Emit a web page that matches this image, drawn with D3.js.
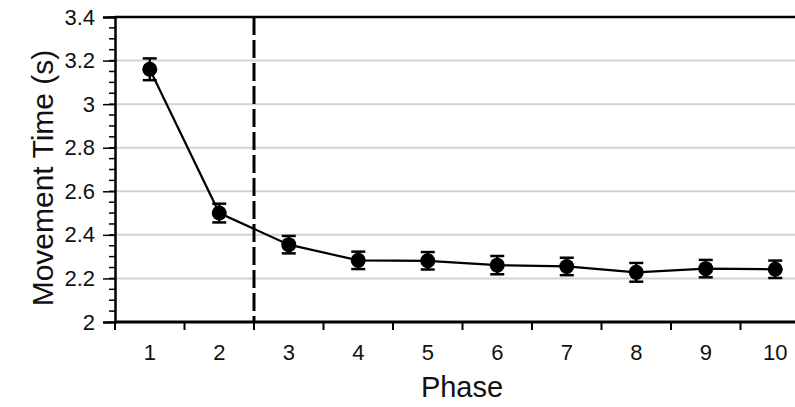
<!DOCTYPE html>
<html><head><meta charset="utf-8">
<script src="https://cdn.jsdelivr.net/npm/d3@7"></script>
<style>body{margin:0;background:#fff}svg{display:block}</style>
</head><body><svg id="c" width="795" height="407"></svg>
<script>
const phases = ["1","2","3","4","5","6","7","8","9","10"];
const meanTime = [3.16, 2.50, 2.355, 2.283, 2.281, 2.261, 2.255, 2.228, 2.245, 2.242];
const errTime  = [0.05, 0.043, 0.04, 0.04, 0.04, 0.042, 0.04, 0.043, 0.04, 0.04];
const yTicks = [2, 2.2, 2.4, 2.6, 2.8, 3, 3.2, 3.4];
const gridValues = [2.2, 2.4, 2.6, 2.8, 3, 3.2];
const dividerAfter = 2; // dashed line between phase 2 and 3

(function () {
const svg = d3.select("#c");
const pL = 115, pR = 810, pT = 17, pB = 322;
const font = "'Liberation Sans', Arial, sans-serif";

const x = d3.scaleBand().domain(phases).range([pL, pR]).padding(0);
const y = d3.scaleLinear().domain([2, 3.4]).range([pB, pT]);

svg.append("g").selectAll("line").data(gridValues).join("line")
  .attr("x1", pL).attr("x2", 795)
  .attr("y1", d => y(d)).attr("y2", d => y(d))
  .attr("stroke", "#d2d2d2").attr("stroke-width", 2);

svg.append("line").attr("x1", pL).attr("x2", 795).attr("y1", y(3.4)).attr("y2", y(3.4))
  .attr("stroke", "#000").attr("stroke-width", 2.5);

const xd = x(phases[dividerAfter]);
svg.append("line").attr("x1", xd).attr("x2", xd).attr("y1", pT).attr("y2", pB)
  .attr("stroke", "#000").attr("stroke-width", 3).attr("stroke-dasharray", "18,5");

const minor = d3.range(2, 3.4001, 0.05);
svg.append("g").selectAll("line").data(minor).join("line")
  .attr("x1", pL - 6).attr("x2", pL)
  .attr("y1", d => y(d)).attr("y2", d => y(d))
  .attr("stroke", "#000").attr("stroke-width", 1.5);

const yAxis = svg.append("g").attr("transform", `translate(${pL},0)`)
  .call(d3.axisLeft(y).tickValues(yTicks).tickSize(12).tickPadding(8).tickFormat(d3.format("~g")));
yAxis.select(".domain").attr("stroke-width", 2.5);
yAxis.selectAll(".tick line").attr("stroke-width", 1.5);
yAxis.selectAll("text").attr("font-family", font).attr("font-size", 22).attr("fill", "#111");

const edges = phases.map(p => x(p));
svg.append("line").attr("x1", pL).attr("x2", 795).attr("y1", pB).attr("y2", pB)
  .attr("stroke", "#000").attr("stroke-width", 3);
svg.append("g").selectAll("line").data(edges).join("line")
  .attr("x1", d => d).attr("x2", d => d).attr("y1", pB).attr("y2", pB + 8)
  .attr("stroke", "#000").attr("stroke-width", 2);
const xAxis = svg.append("g").attr("transform", `translate(0,${pB})`)
  .call(d3.axisBottom(x).tickSize(0).tickPadding(22));
xAxis.select(".domain").remove();
xAxis.selectAll("text").attr("font-family", font).attr("font-size", 22).attr("fill", "#111");

const cx = p => x(p) + x.bandwidth() / 2;
svg.append("path").datum(phases)
  .attr("d", d3.line().x(p => cx(p)).y((p, i) => y(meanTime[i])))
  .attr("fill", "none").attr("stroke", "#000").attr("stroke-width", 2.2);

const eb = svg.append("g").attr("stroke", "#000").attr("stroke-width", 2.5);
phases.forEach((p, i) => {
  const c = cx(p), hi = y(meanTime[i] + errTime[i]), lo = y(meanTime[i] - errTime[i]);
  eb.append("line").attr("x1", c).attr("x2", c).attr("y1", hi).attr("y2", lo);
  eb.append("line").attr("x1", c - 7).attr("x2", c + 7).attr("y1", hi).attr("y2", hi);
  eb.append("line").attr("x1", c - 7).attr("x2", c + 7).attr("y1", lo).attr("y2", lo);
});

svg.append("g").selectAll("circle").data(phases).join("circle")
  .attr("cx", p => cx(p)).attr("cy", (p, i) => y(meanTime[i])).attr("r", 7.5).attr("fill", "#000");

svg.append("text").attr("x", 462).attr("y", 397).attr("text-anchor", "middle")
  .attr("font-family", font).attr("font-size", 29).attr("fill", "#111").text("Phase");
svg.append("text").attr("transform", "translate(53,178) rotate(-90)").attr("text-anchor", "middle")
  .attr("font-family", font).attr("font-size", 30).attr("fill", "#111").text("Movement Time (s)");
})();
</script></body></html>
